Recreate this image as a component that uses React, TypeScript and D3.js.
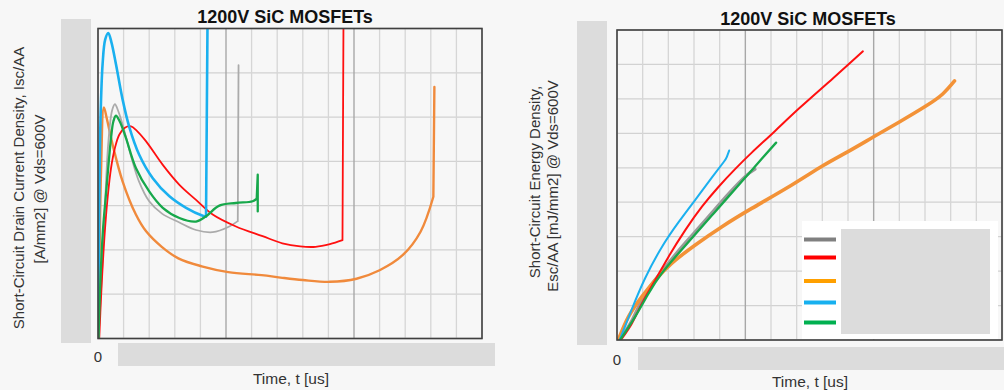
import React from 'react';
import * as d3 from 'd3';

type Pt = [number, number];

// ---- grid definitions (arbitrary units; tick labels are redacted in the reference)
const xGridSteps = d3.range(0, 16);
const leftYGridSteps = d3.range(0, 8);
const rightYGridSteps = d3.range(0, 10);
const majorX = [5, 10];

const titleText = '1200V SiC MOSFETs';
const leftYLabel = ['Short-Circuit Drain Current Density, Isc/AA', '[A/mm2] @ Vds=600V'];
const rightYLabel = ['Short-Circuit Energy Density,', 'Esc/AA [mJ/mm2] @ Vds=600V'];
const xLabel = 'Time, t [us]';
const zeroLabel = '0';

// ---- left chart: current density (last points = failure spike, drawn straight)
const leftOrange: Pt[] = [[0, 0], [0.05, 1.5], [0.12, 3.8], [0.23, 5.22], [0.35, 4.95], [0.57, 4.38], [0.96, 3.55], [1.48, 2.8], [1.88, 2.42], [2.49, 2.07], [3.14, 1.81], [4.05, 1.63], [5.09, 1.5], [6.39, 1.43], [7.2, 1.37], [8.0, 1.32], [9.06, 1.28], [10.1, 1.35], [11.0, 1.54], [11.9, 1.88], [12.6, 2.41], [13.1, 3.2], [13.14, 5.68]];
const leftGray: Pt[] = [[0.02, 0], [0.2, 2], [0.4, 4.4], [0.55, 5.15], [0.66, 5.29], [0.8, 5.12], [1.0, 4.75], [1.3, 4.1], [1.6, 3.55], [2.0, 3.1], [2.5, 2.82], [3.18, 2.62], [3.83, 2.45], [4.48, 2.4], [5.13, 2.53], [5.46, 2.65], [5.49, 6.17]];
const leftRed: Pt[] = [[0.05, 0], [0.12, 0.94], [0.25, 2.27], [0.38, 3.2], [0.51, 3.85], [0.66, 4.3], [0.83, 4.6], [1.05, 4.76], [1.29, 4.79], [1.5, 4.7], [1.88, 4.45], [2.53, 3.92], [3.18, 3.47], [3.83, 3.13], [4.48, 2.8], [5.39, 2.53], [6.43, 2.31], [7.2, 2.15], [7.9, 2.08], [8.5, 2.07], [9.06, 2.13], [9.55, 2.22], [9.59, 7.3]];
const leftBlue: Pt[] = [[0, 0], [0.04, 2.5], [0.1, 5.0], [0.18, 6.2], [0.28, 6.75], [0.4, 6.9], [0.52, 6.7], [0.7, 6.2], [0.96, 5.4], [1.22, 4.78], [1.61, 4.15], [2.14, 3.62], [2.79, 3.21], [3.44, 2.95], [4.09, 2.77], [4.22, 2.75], [4.28, 7.3]];
const leftGreen: Pt[] = [[0.02, 0], [0.1, 1.4], [0.2, 2.5], [0.31, 3.25], [0.51, 4.53], [0.6, 4.9], [0.7, 5.03], [0.85, 4.9], [1.09, 4.53], [1.48, 3.85], [2.0, 3.32], [2.53, 2.95], [3.18, 2.72], [3.83, 2.64], [4.22, 2.76], [4.74, 3.0], [5.39, 3.06], [6.04, 3.1], [6.2, 3.16], [6.24, 3.7], [6.24, 2.87]];

// ---- right chart: energy density
const rightOrange: Pt[] = [[0.05, 0], [0.45, 0.68], [0.97, 1.26], [1.49, 1.74], [2.14, 2.23], [3.05, 2.76], [4.09, 3.29], [5.25, 3.82], [6.81, 4.5], [8.0, 5.05], [9.0, 5.47], [10.0, 5.9], [11.0, 6.33], [12.05, 6.8], [12.7, 7.15], [13.15, 7.52]];
const rightGray: Pt[] = [[0.08, 0], [0.6, 0.6], [1.1, 1.35], [1.75, 2.0], [2.4, 2.6], [3.05, 3.15], [3.7, 3.7], [4.35, 4.25], [5.0, 4.75], [5.38, 4.96]];
const rightRed: Pt[] = [[0.15, 0], [0.58, 0.48], [0.97, 1.06], [1.49, 1.74], [2.01, 2.42], [2.66, 3.19], [3.31, 3.87], [3.96, 4.45], [4.6, 4.96], [5.25, 5.44], [6.16, 6.07], [7.12, 6.74], [8.42, 7.6], [9.58, 8.38]];
const rightBlue: Pt[] = [[0.1, 0], [0.58, 0.9], [1.1, 1.8], [1.75, 2.7], [2.4, 3.42], [3.05, 4.07], [3.7, 4.72], [4.15, 5.16], [4.28, 5.32], [4.37, 5.5]];
const rightGreen: Pt[] = [[0.12, 0], [0.71, 0.68], [1.23, 1.35], [1.75, 1.94], [2.4, 2.52], [3.05, 3.07], [3.7, 3.62], [4.35, 4.17], [4.99, 4.71], [5.64, 5.26], [6.2, 5.73]];

const legendColors = ['#808080', '#ff0000', '#ffa000', '#17b0ef', '#00b050'];

const BG = '#f7f7f7';
const BLOCK = '#dcdcdc';
const FONT = 'Liberation Sans, Arial, sans-serif';

interface Series { data: Pt[]; color: string; width: number; tail: number }

function Plot(props: { id: string; x: number; y: number; w: number; h: number; yMax: number; yGrid: number[]; series: Series[]; curve: d3.CurveFactory }) {
  const { id, x, y, w, h, yMax, yGrid, series, curve } = props;
  const xs = d3.scaleLinear().domain([0, 15]).range([x, x + w]);
  const ys = d3.scaleLinear().domain([0, yMax]).range([y + h, y]);
  const smooth = d3.line<Pt>().x(d => xs(d[0])).y(d => ys(d[1])).curve(curve);
  const straight = d3.line<Pt>().x(d => xs(d[0])).y(d => ys(d[1]));
  return (
    <g>
      <defs>
        <clipPath id={id}>
          <rect x={x} y={y} width={w} height={h} />
        </clipPath>
      </defs>
      {yGrid.map(v => (
        <line key={'h' + v} x1={x} x2={x + w} y1={ys(v)} y2={ys(v)} stroke="#d2d2d2" strokeWidth={1.3} />
      ))}
      {xGridSteps.map(v => (
        <line key={'v' + v} x1={xs(v)} x2={xs(v)} y1={y} y2={y + h}
          stroke={majorX.includes(v) ? '#a8a8a8' : '#d6d6d6'} strokeWidth={majorX.includes(v) ? 1.4 : 1.3} />
      ))}
      <g clipPath={`url(#${id})`}>
        {series.map((s, i) => {
          const k = s.data.length - 1 - s.tail;
          const d = (smooth(s.data.slice(0, k + 1)) || '') + (s.tail > 0 ? (straight(s.data.slice(k)) || '') : '');
          return <path key={i} d={d} fill="none" stroke={s.color} strokeWidth={s.width} strokeLinejoin="round" strokeLinecap="round" />;
        })}
      </g>
      <rect x={x} y={y} width={w} height={h} fill="none" stroke="#404040" strokeWidth={1.6} />
    </g>
  );
}

export default function App() {
  const L = { x: 98, y: 28.5, w: 384, h: 310 };
  const R = { x: 617, y: 30, w: 385, h: 310 };
  const leftSeries: Series[] = [
    { data: leftOrange, color: '#f08a3c', width: 2.4, tail: 1 },
    { data: leftGray, color: '#ababab', width: 1.8, tail: 1 },
    { data: leftRed, color: '#ff1010', width: 1.8, tail: 1 },
    { data: leftBlue, color: '#1ab0ef', width: 2.6, tail: 1 },
    { data: leftGreen, color: '#17a84b', width: 2.3, tail: 2 },
  ];
  const rightSeries: Series[] = [
    { data: rightGray, color: '#9a9a9a', width: 3, tail: 0 },
    { data: rightOrange, color: '#f39237', width: 3.6, tail: 0 },
    { data: rightRed, color: '#ff1010', width: 2, tail: 0 },
    { data: rightBlue, color: '#1ab0ef', width: 2, tail: 0 },
    { data: rightGreen, color: '#17a84b', width: 2.3, tail: 0 },
  ];
  const legendY = [239.5, 257.5, 281, 302.5, 322.5];
  return (
    <svg width={1004} height={390} style={{ position: 'absolute', left: 0, top: 0 }} fontFamily={FONT}>
      <rect x={0} y={0} width={1004} height={390} fill={BG} />

      {/* left chart */}
      <text x={285} y={23} textAnchor="middle" fontSize={18} fontWeight="bold" fill="#111">{titleText}</text>
      <rect x={61} y={19} width={30} height={324} fill={BLOCK} />
      <rect x={118} y={343} width={377} height={23} fill={BLOCK} />
      <Plot id="clipL" {...L} yMax={7} yGrid={leftYGridSteps} series={leftSeries} curve={d3.curveCatmullRom.alpha(0.5)} />
      <text x={98} y={362} textAnchor="middle" fontSize={15} fill="#333">{zeroLabel}</text>
      <text x={291} y={384} textAnchor="middle" fontSize={15.5} fill="#333">{xLabel}</text>
      <text transform="translate(24,188) rotate(-90)" textAnchor="middle" fontSize={15} fill="#333">{leftYLabel[0]}</text>
      <text transform="translate(45,189) rotate(-90)" textAnchor="middle" fontSize={15} fill="#333">{leftYLabel[1]}</text>

      {/* right chart */}
      <text x={808} y={25} textAnchor="middle" fontSize={18} fontWeight="bold" fill="#111">{titleText}</text>
      <rect x={577} y={21} width={30} height={324} fill={BLOCK} />
      <rect x={638} y={347} width={366} height={23} fill={BLOCK} />
      <Plot id="clipR" {...R} yMax={9} yGrid={rightYGridSteps} series={rightSeries} curve={d3.curveNatural} />
      <text x={617} y={365} textAnchor="middle" fontSize={15} fill="#333">{zeroLabel}</text>
      <text x={810} y={387} textAnchor="middle" fontSize={15.5} fill="#333">{xLabel}</text>
      <text transform="translate(540,182) rotate(-90)" textAnchor="middle" fontSize={15} fill="#333">{rightYLabel[0]}</text>
      <text transform="translate(558,186) rotate(-90)" textAnchor="middle" fontSize={15} fill="#333">{rightYLabel[1]}</text>

      {/* legend */}
      <rect x={802} y={221} width={196} height={118} fill="#ffffff" />
      {legendColors.map((c, i) => (
        <line key={i} x1={804} x2={836} y1={legendY[i]} y2={legendY[i]} stroke={c} strokeWidth={4} />
      ))}
      <rect x={841} y={229} width={149} height={105} fill={BLOCK} />
    </svg>
  );
}
